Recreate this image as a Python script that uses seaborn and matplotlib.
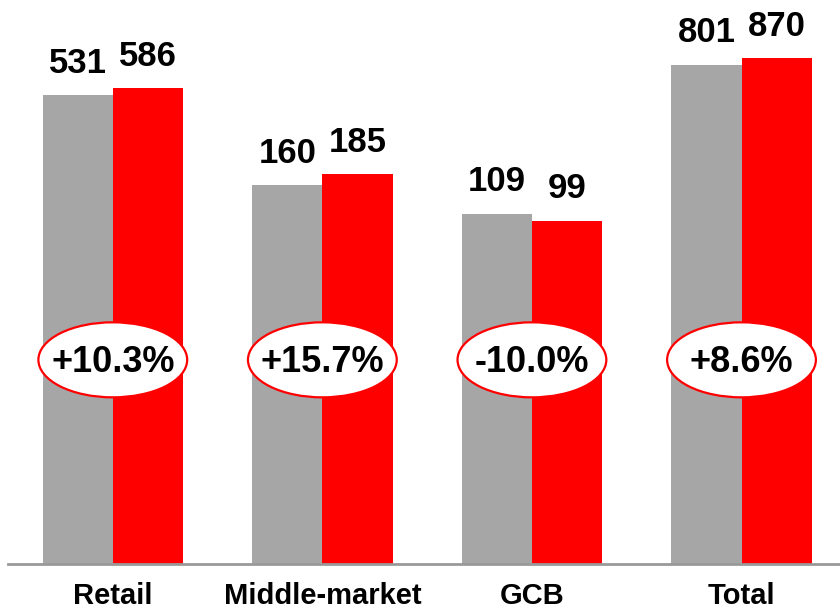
import matplotlib
matplotlib.use("Agg")
import matplotlib.pyplot as plt
import matplotlib.transforms as mtransforms
from matplotlib.patches import Ellipse
import seaborn as sns
import pandas as pd
import numpy as np

categories = ["Retail", "Middle-market", "GCB", "Total"]
prev_values = [531, 160, 109, 801]
curr_values = [586, 185, 99, 870]
growth_labels = ["+10.3%", "+15.7%", "-10.0%", "+8.6%"]
series_names = ["Previous", "Current"]

df = pd.DataFrame({
    "category": categories * 2,
    "value": prev_values + curr_values,
    "series": [series_names[0]] * 4 + [series_names[1]] * 4,
})

sns.set_theme(style="white")
plt.rcParams["font.family"] = ["Liberation Sans", "DejaVu Sans"]

fig = plt.figure(figsize=(8.4, 6.11), dpi=100)
ax = fig.add_axes([8 / 840, 47 / 611, 1 - 8 / 840, 564 / 611])

sns.barplot(data=df, x="category", y="value", hue="series",
            palette=["#A6A6A6", "#FF0000"], width=0.67, gap=0,
            legend=False, ax=ax, saturation=1,
            edgecolor="none", linewidth=0)

ax.set_yscale("log")
ax.set_ylim(1, np.exp(564 / 74.7))
ax.set_xlim(-0.5, 3.47)

for cont in ax.containers:
    ax.bar_label(cont, fmt="%.0f", padding=11, fontsize=25, fontweight="bold",
                 color="black")

trans = mtransforms.blended_transform_factory(ax.transData, ax.transAxes)
for i, lab in enumerate(growth_labels):
    e = Ellipse((i, 0.362), width=0.71, height=0.133, transform=trans,
                facecolor="white", edgecolor="#FF0000", linewidth=1.6, zorder=5)
    ax.add_patch(e)
    ax.text(i, 0.358, lab, transform=trans, ha="center", va="center",
            fontsize=26, fontweight="bold", color="black", zorder=6)

ax.set_xlabel("")
ax.set_ylabel("")
ax.set_yticks([])
ax.yaxis.set_minor_locator(matplotlib.ticker.NullLocator())
ax.tick_params(axis="x", length=0, pad=13)
for t in ax.get_xticklabels():
    t.set_fontweight("bold")
    t.set_color("black")
    t.set_fontsize(21)
for s in ["top", "right", "left"]:
    ax.spines[s].set_visible(False)
ax.spines["bottom"].set_color("#999999")
ax.spines["bottom"].set_linewidth(2)

fig.savefig("out.png", dpi=100)
